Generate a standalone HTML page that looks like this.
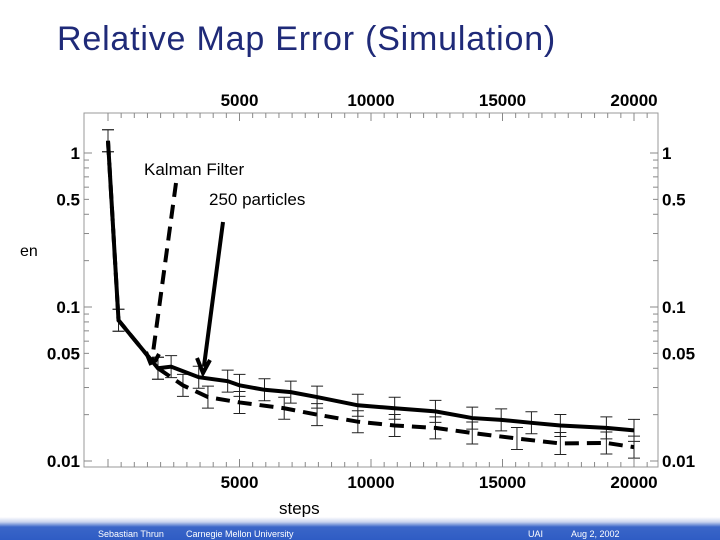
<!DOCTYPE html>
<html><head><meta charset="utf-8"><style>
body{margin:0;width:720px;height:540px;background:#fff;overflow:hidden;position:relative;font-family:"Liberation Sans",sans-serif}
.t{position:absolute;white-space:nowrap}
</style></head><body>
<div class="t" style="left:57px;top:20px;font-size:34px;letter-spacing:0.8px;color:#1f2a78">Relative Map Error (Simulation)</div>
<div class="t" style="left:20px;top:243px;font-size:16px;color:#000">en</div>
<div class="t" style="left:279px;top:499px;font-size:17px;color:#000">steps</div>
<svg id="chart" width="720" height="540" style="position:absolute;left:0;top:0"></svg>
<div style="position:absolute;left:0;top:517px;width:720px;height:23px;background:linear-gradient(#ffffff 0px,#c8d4ee 5px,#3a66c8 10px,#2f5cc4 100%)"></div>
<div class="t" style="left:98px;top:529px;font-size:9px;color:#fff">Sebastian Thrun</div>
<div class="t" style="left:186px;top:529px;font-size:9px;color:#fff">Carnegie Mellon University</div>
<div class="t" style="left:528px;top:529px;font-size:9px;color:#fff">UAI</div>
<div class="t" style="left:571px;top:529px;font-size:9px;color:#fff">Aug 2, 2002</div>
<script>
const solidSteps=[0,400,1900,2400,3450,4550,5000,5950,6950,7950,9500,10900,12450,13850,14950,16100,17200,18950,20000];
const solidVals=[1.2,0.082,0.040,0.041,0.035,0.033,0.031,0.029,0.028,0.026,0.023,0.022,0.021,0.019,0.0185,0.0177,0.017,0.0164,0.0158];
const dashSteps=[0,400,1900,2850,3800,5000,6700,7950,9500,10900,12450,13850,15550,17200,18950,20000];
const dashVals=[1.2,0.082,0.040,0.031,0.026,0.024,0.022,0.020,0.018,0.017,0.0164,0.0152,0.014,0.013,0.0131,0.0123];
const xTicks=[5000,10000,15000,20000];
const yTicks=[1,0.5,0.1,0.05,0.01];
const yTickLabels=["1","0.5","0.1","0.05","0.01"];
const NS="http://www.w3.org/2000/svg";
const svg=document.getElementById('chart');
const X=s=>108+s*(131.5/5000);
const Y=v=>153-154*Math.log10(v);
const L=84,R=658,T=113,B=467;
function mk(tag,attrs,parent){const e=document.createElementNS(NS,tag);for(const k in attrs)e.setAttribute(k,attrs[k]);(parent||svg).appendChild(e);return e;}
const frame=mk('rect',{x:L,y:T,width:R-L,height:B-T,fill:'none',stroke:'#999','stroke-width':1});


for(let s=0;s<=20500;s+=500){const x=X(s);const len=s%5000===0?8:5;
mk('line',{x1:x,x2:x,y1:T,y2:T+len,stroke:'#888'});mk('line',{x1:x,x2:x,y1:B,y2:B-len,stroke:'#888'});}
[0.01,0.1,1].forEach(d=>{for(let m=1;m<10;m++){const v=d*m;const y=Y(v);if(y<T||y>B)continue;const len=m===1?8:5;
mk('line',{x1:L,x2:L+len,y1:y,y2:y,stroke:'#888'});mk('line',{x1:R,x2:R-len,y1:y,y2:y,stroke:'#888'});}});
xTicks.forEach(s=>{
 const a=mk('text',{x:X(s),y:106,'text-anchor':'middle','font-size':17,'font-weight':'bold','font-family':'Liberation Sans'});a.textContent=s;
 
 
 const b=mk('text',{x:X(s),y:488,'text-anchor':'middle','font-size':17,'font-weight':'bold','font-family':'Liberation Sans'});b.textContent=s;
 
 
});
yTicks.forEach((v,i)=>{
 const a=mk('text',{x:80,y:Y(v)+6,'text-anchor':'end','font-size':17,'font-weight':'bold','font-family':'Liberation Sans'});a.textContent=yTickLabels[i];
 
 
 const b=mk('text',{x:662,y:Y(v)+6,'font-size':17,'font-weight':'bold','font-family':'Liberation Sans'});b.textContent=yTickLabels[i];
 
 
});
function series(steps,vals,dash,name){
 steps.forEach((s,i)=>{const x=X(s),y=Y(vals[i]),h=11;
  const g=mk('path',{d:`M${x},${y-h}V${y+h}M${x-6},${y-h}H${x+6}M${x-6},${y+h}H${x+6}`,stroke:'#222','stroke-width':1,fill:'none'});
  
  
 });
 const p=mk('polyline',{points:steps.map((s,i)=>X(s)+','+Y(vals[i])).join(' '),fill:'none',stroke:'#000','stroke-width':4,'stroke-dasharray':dash||'none'});
 
 
}
series(dashSteps,dashVals,'14,8','kalman-filter');
series(solidSteps,solidVals,null,'particles-250');
const ah=mk('path',{d:'M176,183 L152,360 M146,352 L152,367 L159,354',stroke:'#000','stroke-width':4,fill:'none','stroke-dasharray':'14,8'});


const ah2=mk('path',{d:'M223,222 L204,366 M197,358 L203,373 L210,360',stroke:'#000','stroke-width':4,fill:'none'});


const l1=mk('text',{x:144,y:175,'font-size':17,'font-family':'Liberation Sans'});l1.textContent='Kalman Filter';


const l2=mk('text',{x:209,y:205,'font-size':17,'font-family':'Liberation Sans'});l2.textContent='250 particles';


</script>
</body></html>
